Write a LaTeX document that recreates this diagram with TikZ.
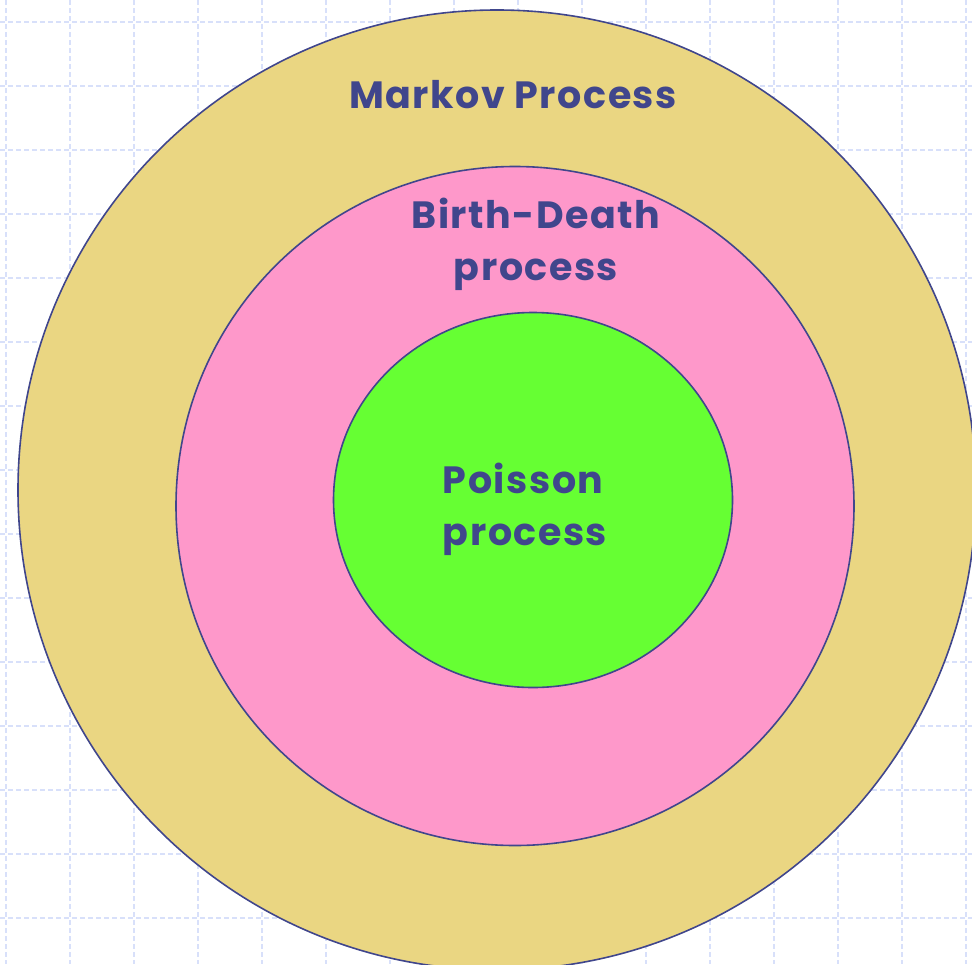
\documentclass[tikz,border=0pt]{standalone}
\usepackage{fontspec}
\setmainfont{Poppins}[LetterSpace=4]
\usetikzlibrary{shapes.geometric}
\usetikzlibrary{positioning}

\definecolor{inkblue}{RGB}{64,70,140}
\definecolor{gridblue}{RGB}{216,224,250}
\definecolor{markovfill}{RGB}{234,214,130}
\definecolor{bdfill}{RGB}{254,152,202}
\definecolor{poissonfill}{RGB}{102,255,51}

\begin{document}
\begin{tikzpicture}[x=1pt,y=-1pt,
	ring/.style={ellipse,draw=inkblue,line width=1.6pt,inner sep=0pt},
	title/.style={font=\bfseries\fontsize{38}{52}\selectfont,text=inkblue,align=center},
	gridline/.style={draw=gridblue,dash pattern=on 5pt off 3pt,line width=1.5pt}]
	
	\useasboundingbox (0,0) rectangle (972,964);
	\clip (0,0) rectangle (972,964);
	
	% background grid
	\foreach \x in {6,70,...,966}
		\draw[gridline] (\x,0) -- (\x,964);
	\foreach \y in {22,86,...,918}
		\draw[gridline] (0,\y) -- (972,\y);
	
	% nested sets
	\node[ring,fill=markovfill,minimum width=958pt,minimum height=960pt] (markov) at (497,490) {};
	\node[ring,fill=bdfill,minimum width=678pt,minimum height=679pt] (bd) at (515,506) {};
	\node[ring,fill=poissonfill,minimum width=399pt,minimum height=375pt] (poisson) at (533,500) {};
	
	\node[title] (markov text) at (513,95) {Markov Process};
	\node[title] (bd text) at (536,244) {Birth-Death\\process};
	\node[title,align=left] (poisson text) at (525,509) {Poisson\\process};
\end{tikzpicture}
\end{document}
